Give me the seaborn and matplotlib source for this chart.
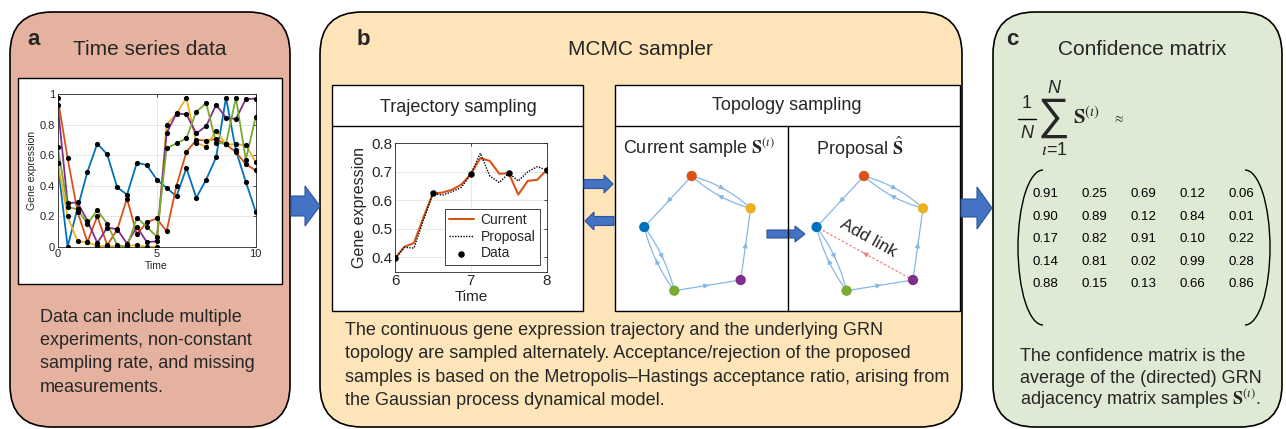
import numpy as np
import pandas as pd
import seaborn as sns
import matplotlib.pyplot as plt
import matplotlib.patches as mpatches
from matplotlib.colors import ListedColormap

# ---- panel a: time series (5 genes, sampled every 0.5) ----
t_obs = [0, 0.5, 1, 1.5, 2, 2.5, 3, 3.5, 4, 4.5, 5, 5.5, 6, 6.5, 7, 7.5, 8, 8.5, 9, 9.5, 10]
blue = [0.55, 0.0, 0.25, 0.49, 0.675, 0.605, 0.39, 0.34, 0.55, 0.535, 0.44, 0.385, 0.33, 0.515, 0.32, 0.44, 0.585, 0.975, 0.63, 0.425, 0.23]
orange = [0.975, 0.58, 0.23, 0.03, 0.2, 0.01, 0.11, 0.315, 0.08, 0.16, 0.185, 0.1, 0.4, 0.62, 0.7, 0.695, 0.705, 0.67, 0.62, 0.54, 0.5]
yellow = [0.55, 0.2, 0.035, 0.03, 0.005, 0.005, 0.0, 0.005, 0.01, 0.0, 0.0, 0.8, 0.87, 0.975, 0.68, 0.655, 0.76, 0.67, 0.67, 0.665, 0.555]
purple = [0.93, 0.285, 0.29, 0.17, 0.025, 0.125, 0.115, 0.02, 0.13, 0.03, 0.035, 0.745, 0.873, 0.867, 0.742, 0.79, 0.93, 0.845, 0.836, 0.967, 0.97]
green = [0.655, 0.26, 0.245, 0.15, 0.24, 0.15, 0.01, 0.0, 0.19, 0.13, 0.065, 0.644, 0.677, 0.71, 0.884, 0.94, 0.68, 0.675, 0.975, 0.57, 0.85]
gene_colors = {'blue': '#0072BD', 'orange': '#D95319', 'yellow': '#EDB120',
               'purple': '#7E2F8E', 'green': '#77AC30'}

# ---- panel b: trajectory sampling ----
t_traj = [6, 6.125, 6.25, 6.375, 6.5, 6.625, 6.75, 6.875, 7, 7.125, 7.25, 7.375, 7.5, 7.625, 7.75, 7.875, 8]
current = [0.396, 0.437, 0.45, 0.54, 0.624, 0.627, 0.637, 0.655, 0.692, 0.748, 0.738, 0.693, 0.695, 0.62, 0.668, 0.672, 0.706]
proposal = [0.396, 0.435, 0.432, 0.53, 0.624, 0.618, 0.63, 0.645, 0.692, 0.765, 0.685, 0.662, 0.695, 0.668, 0.7, 0.718, 0.706]
t_data = [6, 6.5, 7, 7.5, 8]
y_data = [0.396, 0.624, 0.692, 0.697, 0.706]

# ---- panel b: topology (node layout in figure pixels) ----
node_names = ['orange', 'yellow', 'purple', 'green', 'blue']
node_x = [691.7, 750.7, 740.7, 674.3, 644.3]
node_y = [176, 208.3, 280, 290.7, 227]
edges = [('orange', 'yellow', 0.12), ('yellow', 'orange', 0.12), ('orange', 'blue', 0.0),
         ('blue', 'green', 0.1), ('green', 'blue', 0.1), ('green', 'purple', 0.0),
         ('purple', 'yellow', 0.0)]
added_edge = ('purple', 'blue')
proposal_shift = 172.3

# ---- panel c: confidence matrix ----
conf = [[0.91, 0.25, 0.69, 0.12, 0.06],
        [0.90, 0.89, 0.12, 0.84, 0.01],
        [0.17, 0.82, 0.91, 0.10, 0.22],
        [0.14, 0.81, 0.02, 0.99, 0.28],
        [0.88, 0.15, 0.13, 0.66, 0.86]]

text_a = ['Data can include multiple', 'experiments, non-constant',
          'sampling rate, and missing', 'measurements.']
text_b = ['The continuous gene expression trajectory and the underlying GRN',
          'topology are sampled alternately. Acceptance/rejection of the proposed',
          'samples is based on the Metropolis\u2013Hastings acceptance ratio, arising from',
          'the Gaussian process dynamical model.']
text_c = ['The confidence matrix is the', 'average of the (directed) GRN',
          r'adjacency matrix samples $\mathbf{S}^{(\imath)}$.']

sns.set_theme(style='whitegrid')
plt.rcParams['font.family'] = ['Liberation Sans', 'DejaVu Sans']
plt.rcParams['mathtext.fontset'] = 'stix'

W, H = 1286, 429
fig = plt.figure(figsize=(W / 100, H / 100), dpi=100)
fig.patch.set_facecolor('white')

bg = fig.add_axes([0, 0, 1, 1])
bg.set_xlim(0, W)
bg.set_ylim(H, 0)
bg.axis('off')


def px_axes(x0, y0, x1, y1):
    return fig.add_axes([x0 / W, 1 - y1 / H, (x1 - x0) / W, (y1 - y0) / H])


def matlab_style(ax, fs):
    ax.set_facecolor('white')
    for s in ax.spines.values():
        s.set_color('#262626')
        s.set_linewidth(0.6)
    ax.grid(True, color='#e3e3e3', linewidth=0.6)
    ax.tick_params(direction='in', length=2.5, width=0.6, labelsize=fs,
                   colors='#262626', pad=2, top=True, right=True,
                   labeltop=False, labelright=False)


# panel backgrounds
panels = [(10, 12, 280, 415, '#E6B2A0'), (320, 12, 642, 415, '#FDE5B9'),
          (993, 12, 289, 415, '#DEEAD3')]
for x, y, w, h, c in panels:
    bg.add_patch(mpatches.FancyBboxPatch((x, y), w, h, boxstyle='round,pad=0,rounding_size=42',
                                         facecolor=c, edgecolor='black', linewidth=1.2))

# labels and titles
for lx, lab in [(27, 'a'), (357, 'b'), (1006, 'c')]:
    bg.text(lx, 45, lab, fontsize=16, fontweight='bold', va='baseline')
for cx, title in [(150, 'Time series data'), (640, 'MCMC sampler'), (1142, 'Confidence matrix')]:
    bg.text(cx, 55, title, fontsize=15, ha='center', va='baseline')

# body texts
for i, line in enumerate(text_a):
    bg.text(40, 322 + i * 23.2, line, fontsize=13, va='baseline')
for i, line in enumerate(text_b):
    bg.text(345, 335 + i * 23.3, line, fontsize=13, va='baseline')
for i, line in enumerate(text_c):
    bg.text(1020, 361 + i * 21.7, line, fontsize=13, va='baseline')

# white boxes
bg.add_patch(mpatches.Rectangle((17.5, 77.5), 264, 206, facecolor='white', edgecolor='black', lw=1.0))
bg.add_patch(mpatches.Rectangle((332, 85), 251, 226, facecolor='white', edgecolor='black', lw=1.0))
bg.add_patch(mpatches.Rectangle((615, 85), 345, 226, facecolor='white', edgecolor='black', lw=1.0))
bg.plot([332, 583], [126, 126], color='black', lw=1.0)
bg.plot([615, 960], [126, 126], color='black', lw=1.0)
bg.plot([788, 788], [126, 311], color='black', lw=1.0)
bg.text(458, 108, 'Trajectory sampling', fontsize=13, ha='center', va='center')
bg.text(787, 105, 'Topology sampling', fontsize=13, ha='center', va='center')
bg.text(623, 148, r'Current sample $\mathbf{S}^{(\imath)}$', fontsize=13, va='center')
bg.text(816, 148, r'Proposal $\hat{\mathbf{S}}$', fontsize=13, va='center')

# block arrows
arrow_kw = dict(length_includes_head=True, facecolor='#4472C4', edgecolor='#2F5597', linewidth=0.8)
bg.add_patch(mpatches.FancyArrow(291, 206, 29, 0, width=20, head_width=40, head_length=15, **arrow_kw))
bg.add_patch(mpatches.FancyArrow(961, 208, 31, 0, width=18, head_width=42, head_length=15, **arrow_kw))
bg.add_patch(mpatches.FancyArrow(584, 184, 29, 0, width=9, head_width=18, head_length=9, **arrow_kw))
bg.add_patch(mpatches.FancyArrow(614, 221, -29, 0, width=9, head_width=18, head_length=9, **arrow_kw))
bg.add_patch(mpatches.FancyArrow(767, 234, 38, 0, width=8, head_width=16, head_length=10, **arrow_kw))

# ---- network drawings ----
pos = {n: np.array([x, y]) for n, x, y in zip(node_names, node_x, node_y)}
edge_col = '#86B8E4'


def draw_edge(p0, p2, rad, col, ls='-'):
    d = p2 - p0
    ctrl = (p0 + p2) / 2 + rad * np.array([d[1], -d[0]])
    s = np.linspace(0, 1, 30)[:, None]
    curve = (1 - s) ** 2 * p0 + 2 * (1 - s) * s * ctrl + s ** 2 * p2
    bg.plot(curve[:, 0], curve[:, 1], color=col, lw=0.9, ls=ls, zorder=3)
    mid = curve[15]
    u = d / np.linalg.norm(d)
    bg.annotate('', xy=mid + 3 * u, xytext=mid - 3 * u,
                arrowprops=dict(arrowstyle='-|>', color=col, lw=0.8, mutation_scale=7), zorder=3)


for shift in [0, proposal_shift]:
    off = np.array([shift, 0])
    for a, b, rad in edges:
        draw_edge(pos[a] + off, pos[b] + off, rad, edge_col)
    bg.scatter(np.array(node_x) + shift, node_y, s=55,
               c=[gene_colors[n] for n in node_names], zorder=4, linewidths=0)

off = np.array([proposal_shift, 0])
draw_edge(pos[added_edge[0]] + off, pos[added_edge[1]] + off, 0.0, '#F08080', ls=(0, (2, 1.5)))
bg.text(868, 238, 'Add link', fontsize=12.5, rotation=-29, ha='center', va='center',
        rotation_mode='anchor')

# ---- panel a plot ----
ax_a = px_axes(57.7, 94, 255.7, 246.7)
ts = pd.DataFrame({'Time': t_obs * 5,
                   'expr': blue + orange + yellow + purple + green,
                   'gene': sum([[g] * len(t_obs) for g in ['blue', 'orange', 'yellow', 'purple', 'green']], [])})
sns.lineplot(data=ts, x='Time', y='expr', hue='gene', palette=gene_colors, estimator=None,
             linewidth=1.3, legend=False, ax=ax_a)
sns.scatterplot(data=ts, x='Time', y='expr', color='black', s=14, linewidth=0, zorder=5,
                legend=False, ax=ax_a)
ax_a.set_xlim(0, 10)
ax_a.set_ylim(0, 1)
ax_a.set_xticks([0, 5, 10])
ax_a.set_yticks([0, 0.2, 0.4, 0.6, 0.8, 1])
ax_a.set_yticklabels(['0', '0.2', '0.4', '0.6', '0.8', '1'])
matlab_style(ax_a, 8)
ax_a.set_xlabel('Time', fontsize=7.5, labelpad=1)
ax_a.set_ylabel('Gene expression', fontsize=7.5, labelpad=2)

# ---- trajectory plot ----
ax_t = px_axes(395, 143.3, 546.7, 271.5)
sns.lineplot(x=t_traj, y=current, color='#D95319', linewidth=1.5, label='Current', ax=ax_t)
sns.lineplot(x=t_traj, y=proposal, color='black', linewidth=1.0, linestyle=(0, (1, 1)),
             label='Proposal', ax=ax_t)
sns.scatterplot(x=t_data, y=y_data, color='black', s=22, linewidth=0, zorder=5,
                label='Data', ax=ax_t)
ax_t.set_xlim(6, 8)
ax_t.set_ylim(0.35, 0.8)
ax_t.set_xticks([6, 7, 8])
ax_t.set_yticks([0.4, 0.5, 0.6, 0.7, 0.8])
matlab_style(ax_t, 11)
ax_t.set_xlabel('Time', fontsize=11, labelpad=1)
ax_t.set_ylabel('Gene expression', fontsize=11.5, labelpad=3)
leg = ax_t.legend(loc='lower right', fontsize=10, frameon=True, fancybox=False,
                  handlelength=1.8, handletextpad=0.5, borderpad=0.3, labelspacing=0.2,
                  borderaxespad=0.5)
leg.get_frame().set_edgecolor('#262626')
leg.get_frame().set_linewidth(0.6)
leg.get_frame().set_alpha(1)

# ---- panel c formula ----
bg.text(1027, 108, '1', fontsize=13, ha='center', va='baseline')
bg.plot([1018, 1036], [119, 119], color='black', lw=1.0)
bg.text(1027, 138, 'N', fontsize=13, style='italic', ha='center', va='baseline')
bg.text(1054, 118, '\u2211', fontsize=32, ha='center', va='center')
bg.text(1054, 93, 'N', fontsize=13, style='italic', ha='center', va='baseline')
bg.text(1054, 155, r'$\imath$=1', fontsize=13, ha='center', va='baseline')
bg.text(1073, 124, r'$\mathbf{S}^{(\imath)}$', fontsize=15, va='baseline')
bg.text(1119, 119, r'$\approx$', fontsize=9, ha='center', va='center')

# ---- confidence matrix ----
ax_c = px_axes(1020.5, 183, 1266.3, 295.5)
sns.heatmap(pd.DataFrame(conf), annot=True, fmt='.2f', cbar=False,
            cmap=ListedColormap(['none']), annot_kws={'color': 'black', 'fontsize': 9.5},
            xticklabels=False, yticklabels=False, ax=ax_c)
ax_c.set_facecolor('none')
ax_c.axis('off')
bg.add_patch(mpatches.Arc((1043, 247.5), 50, 155, theta1=90, theta2=270, color='black', lw=1.0))
bg.add_patch(mpatches.Arc((1245, 247.5), 50, 155, theta1=-90, theta2=90, color='black', lw=1.0))

fig.savefig('out.png', dpi=100)
